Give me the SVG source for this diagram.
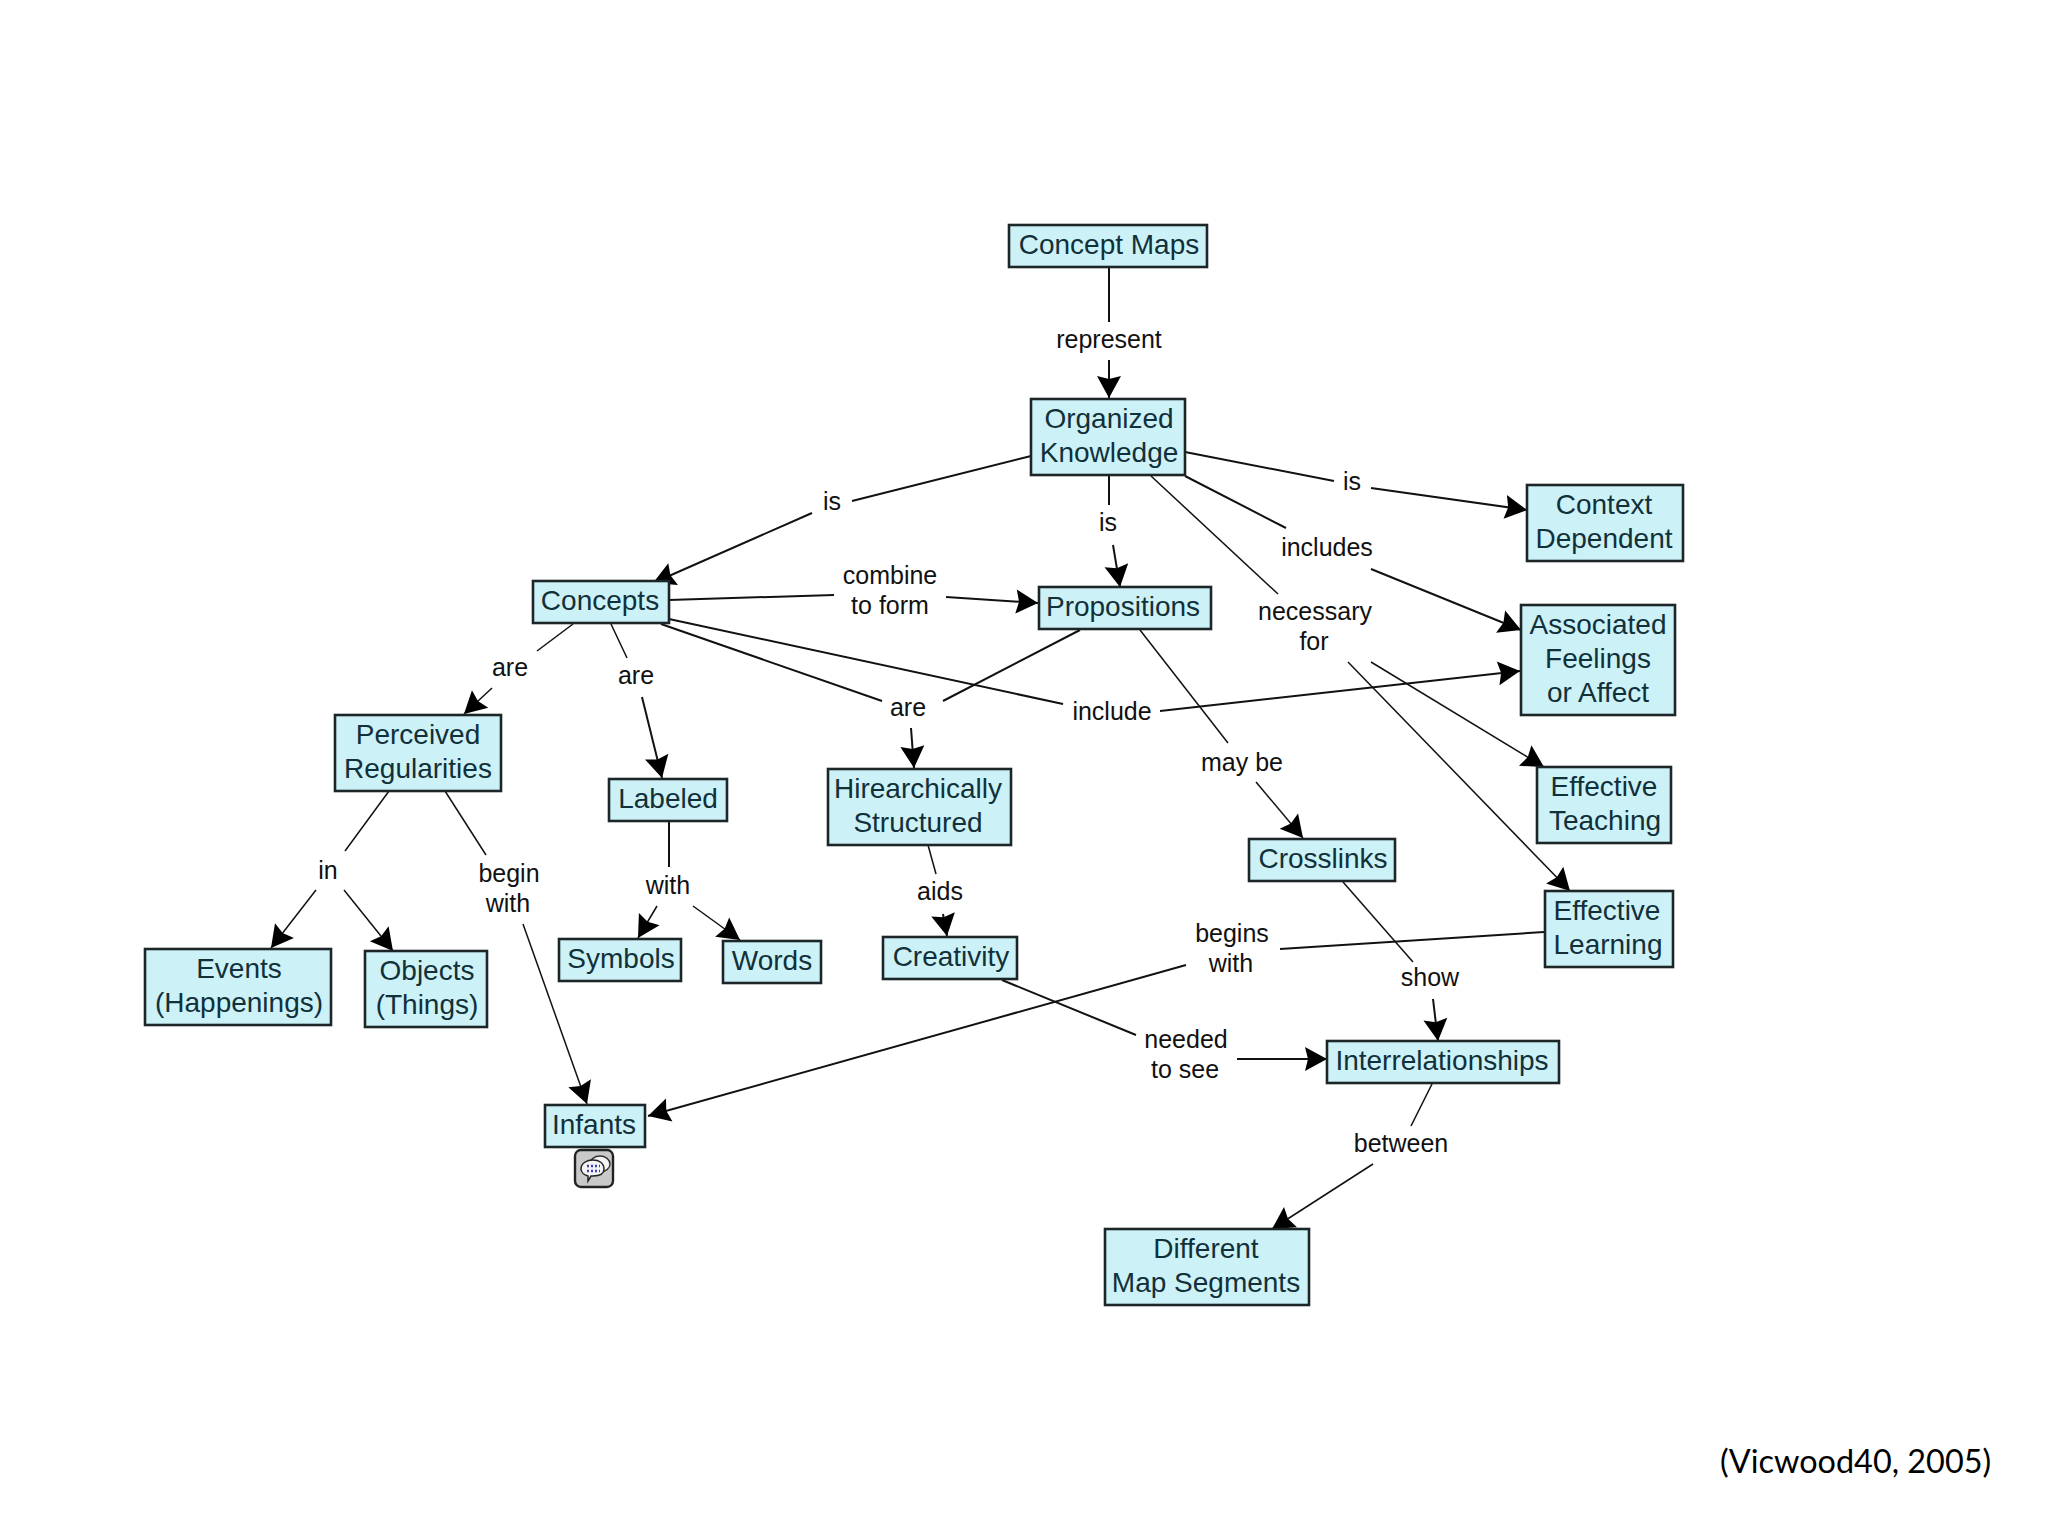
<svg xmlns="http://www.w3.org/2000/svg" width="2048" height="1536" viewBox="0 0 2048 1536">
<style>
.n{fill:#ccf2f7;stroke:#1c2628;stroke-width:2.6}
.t{font-family:"Liberation Sans",Arial,sans-serif;font-size:28px;fill:#12303a;text-anchor:middle}
.l{font-family:"Liberation Sans",Arial,sans-serif;font-size:25px;fill:#111;text-anchor:middle}
.c line{stroke:#111;stroke-width:2;fill:none}
.c line.f{stroke-width:1.5}
.c line.a{marker-end:url(#arrow)}
.src{font-family:Lato,"Open Sans",sans-serif;font-size:32.4px;fill:#000}
</style>
<defs>
<marker id="arrow" markerUnits="userSpaceOnUse" markerWidth="28" markerHeight="30" refX="23" refY="13" orient="auto">
<path d="M23,13 L1,1 L4,13 L1,25 Z" fill="#000"/>
</marker>
</defs>
<rect width="2048" height="1536" fill="#fff"/>
<g id="connectors" class="c">
<line x1="1109" y1="267" x2="1109" y2="322"/><line class="a" x1="1109" y1="360" x2="1109" y2="398"/>
<line x1="1031" y1="456" x2="852" y2="501"/><line class="a" x1="812" y1="513" x2="653" y2="583"/>
<line x1="1109" y1="475" x2="1109" y2="505"/><line class="a" x1="1113" y1="545" x2="1120" y2="587"/>
<line x1="1185" y1="452" x2="1334" y2="481"/><line class="a" x1="1371" y1="488" x2="1527" y2="510"/>
<line x1="1185" y1="476" x2="1286" y2="528"/><line class="a" x1="1371" y1="569" x2="1521" y2="630"/>
<line class="f" x1="1151" y1="476" x2="1278" y2="594"/><line class="a f" x1="1371" y1="662" x2="1544" y2="767"/><line class="a f" x1="1348" y1="662" x2="1570" y2="891"/>
<line x1="669" y1="600" x2="834" y2="595"/><line class="a" x1="946" y1="597" x2="1038" y2="603"/>
<line x1="661" y1="624" x2="882" y2="701"/><line x1="1080" y1="630" x2="943" y2="701"/><line class="a" x1="911" y1="728" x2="914" y2="768"/>
<line x1="669" y1="619" x2="1063" y2="704"/><line class="a" x1="1160" y1="711" x2="1520" y2="671"/>
<line class="f" x1="573" y1="624" x2="537" y2="651"/><line class="a f" x1="492" y1="688" x2="464" y2="714"/>
<line class="f" x1="611" y1="624" x2="627" y2="658"/><line class="a" x1="642" y1="697" x2="662" y2="778"/>
<line class="f" x1="389" y1="791" x2="345" y2="851"/><line class="a f" x1="316" y1="890" x2="271" y2="948"/><line class="a f" x1="344" y1="890" x2="393" y2="951"/>
<line class="f" x1="445" y1="791" x2="486" y2="855"/><line class="a f" x1="523" y1="924" x2="587" y2="1104"/>
<line x1="669" y1="821" x2="669" y2="867"/><line class="a f" x1="657" y1="906" x2="638" y2="938"/><line class="a f" x1="693" y1="906" x2="740" y2="940"/>
<line class="f" x1="928" y1="845" x2="936" y2="874"/><line class="a" x1="943" y1="914" x2="947" y2="936"/>
<line class="f" x1="1140" y1="630" x2="1228" y2="743"/><line class="a f" x1="1256" y1="782" x2="1303" y2="838"/>
<line class="f" x1="1343" y1="882" x2="1413" y2="962"/><line class="a" x1="1433" y1="999" x2="1438" y2="1041"/>
<line x1="1002" y1="980" x2="1136" y2="1035"/><line class="a" x1="1237" y1="1059" x2="1327" y2="1059"/>
<line x1="1544" y1="932" x2="1280" y2="949"/><line class="a" x1="1186" y1="965" x2="648" y2="1116"/>
<line class="f" x1="1432" y1="1084" x2="1411" y2="1126"/><line class="a f" x1="1373" y1="1164" x2="1272" y2="1229"/>
</g>
<g id="labels" class="labels">
<text class="l" x="1109" y="348">represent</text>
<text class="l" x="832" y="510">is</text>
<text class="l" x="1352" y="490">is</text>
<text class="l" x="1108" y="531">is</text>
<text class="l" x="1327" y="556">includes</text>
<text class="l" x="1315" y="620">necessary</text><text class="l" x="1314" y="650">for</text>
<text class="l" x="890" y="584">combine</text><text class="l" x="890" y="614">to form</text>
<text class="l" x="510" y="676">are</text>
<text class="l" x="636" y="684">are</text>
<text class="l" x="908" y="716">are</text>
<text class="l" x="1112" y="720">include</text>
<text class="l" x="1242" y="771">may be</text>
<text class="l" x="328" y="879">in</text>
<text class="l" x="509" y="882">begin</text><text class="l" x="508" y="912">with</text>
<text class="l" x="668" y="894">with</text>
<text class="l" x="940" y="900">aids</text>
<text class="l" x="1232" y="942">begins</text><text class="l" x="1231" y="972">with</text>
<text class="l" x="1430" y="986">show</text>
<text class="l" x="1186" y="1048">needed</text><text class="l" x="1185" y="1078">to see</text>
<text class="l" x="1401" y="1152">between</text>
</g>
<g id="concept-maps"><rect class="n" x="1009" y="225" width="198" height="42"/><text class="t" x="1109" y="254">Concept Maps</text></g>
<g id="organized-knowledge"><rect class="n" x="1031" y="399" width="154" height="76"/><text class="t" x="1109" y="428">Organized</text><text class="t" x="1109" y="462">Knowledge</text></g>
<g id="context-dependent"><rect class="n" x="1527" y="485" width="156" height="76"/><text class="t" x="1604" y="514">Context</text><text class="t" x="1604" y="548">Dependent</text></g>
<g id="concepts"><rect class="n" x="533" y="581" width="136" height="42"/><text class="t" x="600" y="610">Concepts</text></g>
<g id="propositions"><rect class="n" x="1039" y="587" width="172" height="42"/><text class="t" x="1123" y="616">Propositions</text></g>
<g id="associated-feelings"><rect class="n" x="1521" y="605" width="154" height="110"/><text class="t" x="1598" y="634">Associated</text><text class="t" x="1598" y="668">Feelings</text><text class="t" x="1598" y="702">or Affect</text></g>
<g id="perceived-regularities"><rect class="n" x="335" y="715" width="166" height="76"/><text class="t" x="418" y="744">Perceived</text><text class="t" x="418" y="778">Regularities</text></g>
<g id="labeled"><rect class="n" x="609" y="779" width="118" height="42"/><text class="t" x="668" y="808">Labeled</text></g>
<g id="hirearchically-structured"><rect class="n" x="828" y="769" width="183" height="76"/><text class="t" x="918" y="798">Hirearchically</text><text class="t" x="918" y="832">Structured</text></g>
<g id="effective-teaching"><rect class="n" x="1537" y="767" width="134" height="76"/><text class="t" x="1604" y="796">Effective</text><text class="t" x="1605" y="830">Teaching</text></g>
<g id="crosslinks"><rect class="n" x="1249" y="839" width="146" height="42"/><text class="t" x="1323" y="868">Crosslinks</text></g>
<g id="effective-learning"><rect class="n" x="1545" y="891" width="128" height="76"/><text class="t" x="1607" y="920">Effective</text><text class="t" x="1608" y="954">Learning</text></g>
<g id="events"><rect class="n" x="145" y="949" width="186" height="76"/><text class="t" x="239" y="978">Events</text><text class="t" x="239" y="1012">(Happenings)</text></g>
<g id="objects"><rect class="n" x="365" y="951" width="122" height="76"/><text class="t" x="427" y="980">Objects</text><text class="t" x="427" y="1014">(Things)</text></g>
<g id="symbols"><rect class="n" x="559" y="939" width="122" height="42"/><text class="t" x="621" y="968">Symbols</text></g>
<g id="words"><rect class="n" x="723" y="941" width="98" height="42"/><text class="t" x="772" y="970">Words</text></g>
<g id="creativity"><rect class="n" x="883" y="937" width="134" height="42"/><text class="t" x="951" y="966">Creativity</text></g>
<g id="interrelationships"><rect class="n" x="1327" y="1041" width="232" height="42"/><text class="t" x="1442" y="1070">Interrelationships</text></g>
<g id="infants"><rect class="n" x="545" y="1105" width="100" height="42"/><text class="t" x="594" y="1134">Infants</text>
<rect x="575" y="1150" width="38" height="37" rx="6" fill="#c9c9c9" stroke="#222" stroke-width="2.4"/>
<ellipse cx="600" cy="1164" rx="10" ry="8" fill="#f4f4f4" stroke="#333" stroke-width="1.4"/>
<path d="M581 1169c0-6 6-9 12-9s11 3 11 9-5 7-11 7h-2l-3 5v-5c-4-1-7-4-7-7z" fill="#f4f4f4" stroke="#222" stroke-width="1.5"/>
<path d="M587 1166h13M587 1171h13" stroke="#4040c0" stroke-width="2.4" stroke-dasharray="2 2"/>
</g>
<g id="different-map-segments"><rect class="n" x="1105" y="1229" width="204" height="76"/><text class="t" x="1206" y="1258">Different</text><text class="t" x="1206" y="1292">Map Segments</text></g>
<text class="src" x="1720" y="1473">(Vicwood40, 2005)</text>
</svg>
